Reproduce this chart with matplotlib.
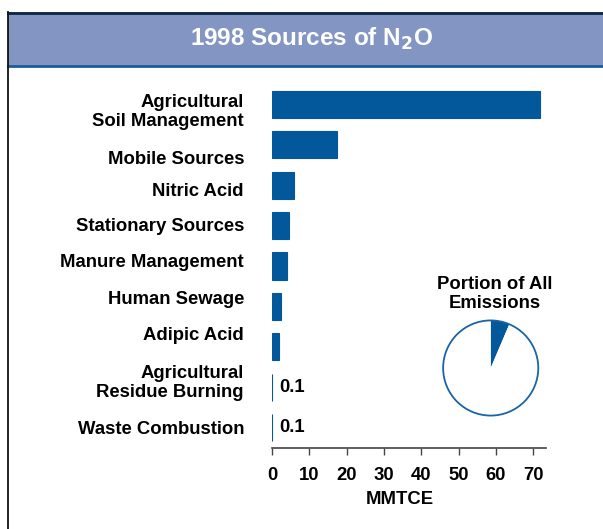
import matplotlib
matplotlib.use("Agg")
import matplotlib.pyplot as plt
from matplotlib.patches import Rectangle
from matplotlib.lines import Line2D

# ---data-----------------------------------------------------------------
sources = ["Agricultural\nSoil Management", "Mobile Sources", "Nitric Acid",
           "Stationary Sources", "Manure Management", "Human Sewage",
           "Adipic Acid", "Agricultural\nResidue Burning", "Waste Combustion"]
mmtce = [71.9, 17.4, 5.9, 4.6, 4.0, 2.4, 1.9, 0.1, 0.1]
small_labels = ["", "", "", "", "", "", "", "0.1", "0.1"]
xticks = [0, 10, 20, 30, 40, 50, 60, 70]
pie_share = [6.4, 93.6]

W, H = 603, 529
BLUE = "#03589b"
FS = 13.3
plt.rcParams['font.family'] = ['Liberation Sans', 'DejaVu Sans']

fig = plt.figure(figsize=(W / 100, H / 100), dpi=100)


def px(x0, y0, x1, y1):
    # pixel box -> figure fraction rect
    return [x0 / W, 1 - y1 / H, (x1 - x0) / W, (y1 - y0) / H]


# ---frame and header band------------------------------------------------
fig.patches.append(Rectangle((8 / W, 1 - 66 / H), 1.0, 54 / H, transform=fig.transFigure,
                             facecolor="#8396c3", edgecolor="none", zorder=0))
fig.lines.append(Line2D([8 / W, 1], [1 - 12.5 / H] * 2, transform=fig.transFigure,
                        color="#0d2540", lw=2))
fig.lines.append(Line2D([8 / W, 1], [1 - 65.5 / H] * 2, transform=fig.transFigure,
                        color="#1c5c9c", lw=2))
fig.lines.append(Line2D([8 / W] * 2, [0, 1 - 12 / H], transform=fig.transFigure,
                        color="#111111", lw=1.3))
fig.text(311 / W, 1 - 39 / H, "1998 Sources of N$_\\mathbf{2}$O", color="white",
         fontsize=17.5, fontweight="bold", ha="center", va="center")

# ---bar chart------------------------------------------------------------
ax = fig.add_axes(px(272, 84, 546, 448))
ypos = list(range(len(sources)))
ax.barh(ypos, mmtce, height=0.67, color=BLUE, edgecolor=BLUE, linewidth=0.8)
ax.set_ylim(len(sources) - 0.5, -0.5)
ax.set_xlim(0, 73.4)
ax.set_yticks([])
ax.set_xticks(xticks)
ax.set_xticklabels([str(t) for t in xticks], fontsize=FS, fontweight="bold")
ax.tick_params(axis="x", length=5, width=1, color="#444444", pad=9)
for s in ["top", "right", "left"]:
    ax.spines[s].set_visible(False)
ax.spines["bottom"].set_color("#444444")
ax.spines["bottom"].set_linewidth(1.2)
for y, v, lab in zip(ypos, mmtce, small_labels):
    if lab:
        ax.text(v + 1.8, y, lab, va="center", ha="left", fontsize=FS, fontweight="bold")

# category labels sit on their own rhythm in the original, not on bar centres
label_rows = [112, 159, 192, 226, 262, 299, 335, 383, 430]
for name, ry in zip(sources, label_rows):
    fig.text(244 / W, 1 - ry / H, name, ha="right", va="center",
             fontsize=FS, fontweight="bold", linespacing=1.1)

fig.text(400 / W, 1 - 499 / H, "MMTCE", ha="center", va="center",
         fontsize=FS, fontweight="bold")

# ---pie inset------------------------------------------------------------
r = 49
pax = fig.add_axes(px(490.7 - r, 368 - r, 490.7 + r, 368 + r))
pax.pie(pie_share, colors=[BLUE, "white"], startangle=90, counterclock=False,
        wedgeprops=dict(linewidth=0))
pax.add_patch(plt.Circle((0, 0), 1.0, fill=False, edgecolor="#1a64a6", lw=1.3))
pax.set_xlim(-1.03, 1.03)
pax.set_ylim(-1.03, 1.03)
pax.set_aspect("equal")
pax.axis("off")
fig.text(495 / W, 1 - 294 / H, "Portion of All\nEmissions", ha="center", va="center",
         fontsize=FS, fontweight="bold", linespacing=1.2)

fig.savefig("out.png", dpi=100)
